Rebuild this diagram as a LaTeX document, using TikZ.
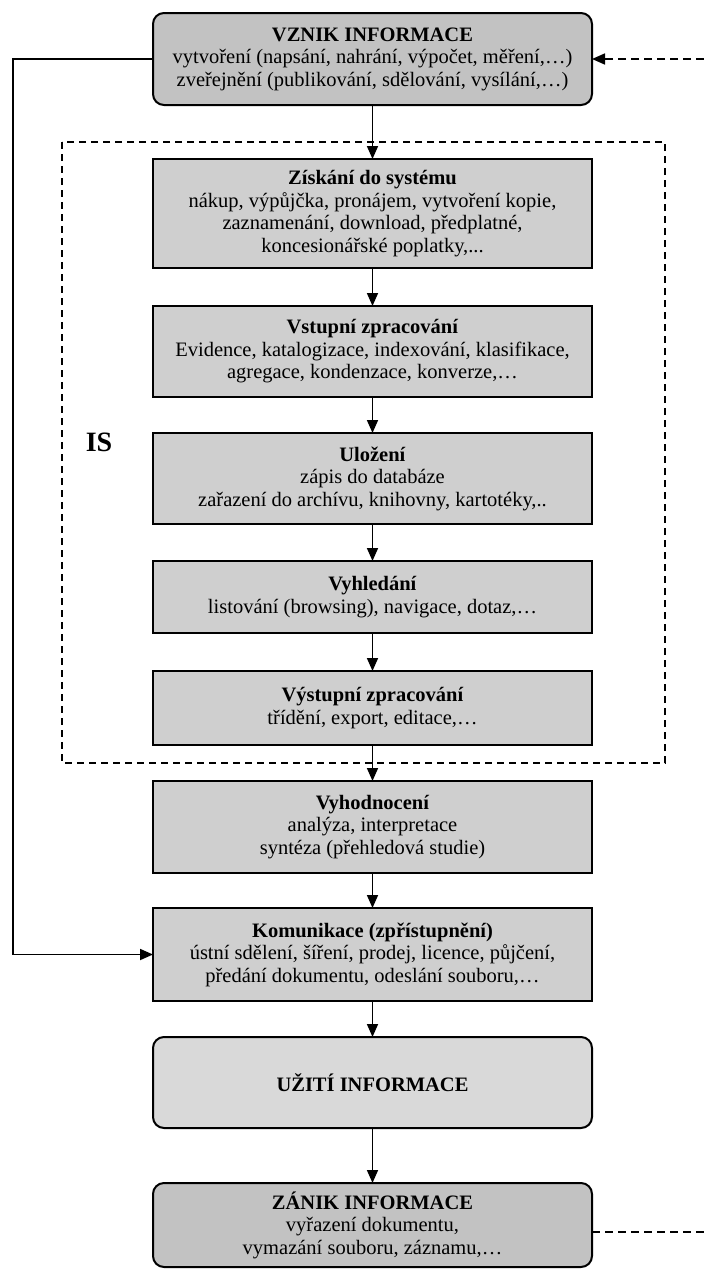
\documentclass[tikz,border=0pt]{standalone}
\usepackage{fontspec}
\setmainfont{Liberation Serif}
\usetikzlibrary{arrows.meta}
\begin{document}
\begin{tikzpicture}[x=1pt,y=-1pt,
  every node/.style={inner sep=0pt,outer sep=0pt},
  stepbox/.style={draw=black,line width=2pt,fill=gray!38,minimum width=439pt,align=center,
    font=\fontsize{20.5}{22.5}\selectfont},
  roundbox/.style={stepbox,rounded corners=11pt},
  darkbox/.style={roundbox,fill=gray!48},
  lightbox/.style={roundbox,fill=gray!30},
  flow/.style={line width=1.7pt,-{Triangle[width=11pt,length=13pt]}},
  fback/.style={line width=1.7pt,dashed,dash pattern=on 8pt off 5pt}
]
\useasboundingbox (0,0) rectangle (704,1270);
% IS frame
\draw[line width=1.5pt,dash pattern=on 7pt off 5pt] (62,142) rectangle (665,763);
\node[font=\fontsize{28}{30}\selectfont\bfseries] (is) at (99,442) {IS};

\node[darkbox,minimum height=92pt] (vznik) at (372.5,59)
 {\textbf{VZNIK INFORMACE}\\vytvoření (napsání, nahrání, výpočet, měření,…)\\zveřejnění (publikování, sdělování, vysílání,…)};
\node[stepbox,minimum height=109pt] (ziskani) at (372.5,213.5)
 {\textbf{Získání do systému}\\nákup, výpůjčka, pronájem, vytvoření kopie,\\zaznamenání, download, předplatné,\\koncesionářské poplatky,...};
\node[stepbox,minimum height=91pt] (vstup) at (372.5,351.5)
 {\textbf{Vstupní zpracování}\\Evidence, katalogizace, indexování, klasifikace,\\agregace, kondenzace, konverze,…};
\node[stepbox,minimum height=91pt] (ulozeni) at (372.5,478.5)
 {\textbf{Uložení}\\zápis do databáze\\zařazení do archívu, knihovny, kartotéky,..};
\node[stepbox,minimum height=72pt] (vyhledani) at (372.5,597)
 {\textbf{Vyhledání}\\listování (browsing), navigace, dotaz,…};
\node[stepbox,minimum height=74pt] (vystup) at (372.5,708)
 {\textbf{Výstupní zpracování}\\třídění, export, editace,…};
\node[stepbox,minimum height=92pt] (vyhodnoceni) at (372.5,827)
 {\textbf{Vyhodnocení}\\analýza, interpretace\\syntéza (přehledová studie)};
\node[stepbox,minimum height=93pt] (komunikace) at (372.5,954.5)
 {\textbf{Komunikace (zpřístupnění)}\\ústní sdělení, šíření, prodej, licence, půjčení,\\předání dokumentu, odeslání souboru,…};
\node[lightbox,minimum height=91pt] (uziti) at (372.5,1082.5)
 {\textbf{UŽITÍ INFORMACE}};
\node[darkbox,minimum height=84pt] (zanik) at (372.5,1225)
 {\textbf{ZÁNIK INFORMACE}\\vyřazení dokumentu,\\vymazání souboru, záznamu,…};

\draw[flow] (vznik) -- (ziskani);
\draw[flow] (ziskani) -- (vstup);
\draw[flow] (vstup) -- (ulozeni);
\draw[flow] (ulozeni) -- (vyhledani);
\draw[flow] (vyhledani) -- (vystup);
\draw[flow] (vystup) -- (vyhodnoceni);
\draw[flow] (vyhodnoceni) -- (komunikace);
\draw[flow] (komunikace) -- (uziti);
\draw[flow] (uziti) -- (zanik);

\draw[flow] (vznik.west) -- (13,59) -- (13,954.5) -- (komunikace.west);

\coordinate (inR) at (704,59);
\draw[fback,-{Triangle[width=11pt,length=13pt]}] (inR) -- (vznik.east);
\coordinate (outR) at (704,1232);
\draw[fback] (zanik.east |- outR) -- (outR);
\end{tikzpicture}
\end{document}
